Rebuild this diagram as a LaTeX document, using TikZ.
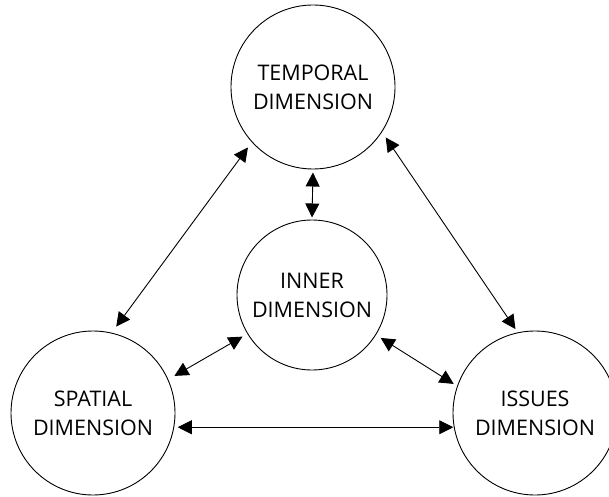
\documentclass[tikz,border=0pt]{standalone}
\usepackage{fontspec}
\setmainfont{Open Sans}
\usetikzlibrary{arrows.meta}

\begin{document}
\begin{tikzpicture}[x=1pt,y=1pt,>={Triangle[length=14pt,width=14pt]},
    line width=0.9pt,
    dimension/.style={circle,draw,inner sep=0pt,outer sep=0pt,
      minimum size=164pt,align=center,
      font=\fontsize{21.5}{29}\selectfont}]
  \useasboundingbox (0,0) rectangle (609,496);

  \node[dimension]                       (temporal) at (313,409) {TEMPORAL\\DIMENSION};
  \node[dimension, minimum size=150pt]   (inner)    at (312,201) {INNER\\DIMENSION};
  \node[dimension]                       (spatial)  at (93,83)   {SPATIAL\\DIMENSION};
  \node[dimension]                       (issues)   at (535,83)  {ISSUES\\DIMENSION};

  \path[<->]
  (temporal.south)
  edge [shorten <=3.5pt, shorten >=2.5pt]
  (inner.north)

  (temporal.222)
  edge [shorten <=7pt, shorten >=8pt]
  (spatial.77)

  (temporal.-33)
  edge [shorten <=7pt, shorten >=4.5pt]
  (issues.102)

  (inner.211)
  edge [shorten <=6pt, shorten >=7.5pt]
  (spatial.24)

  (inner.-32.5)
  edge [shorten <=6pt, shorten >=4.5pt]
  (issues.161)

  (spatial.-10.5)
  edge [shorten <=4pt, shorten >=1pt]
  (issues.190.5)
;
\end{tikzpicture}
\end{document}
